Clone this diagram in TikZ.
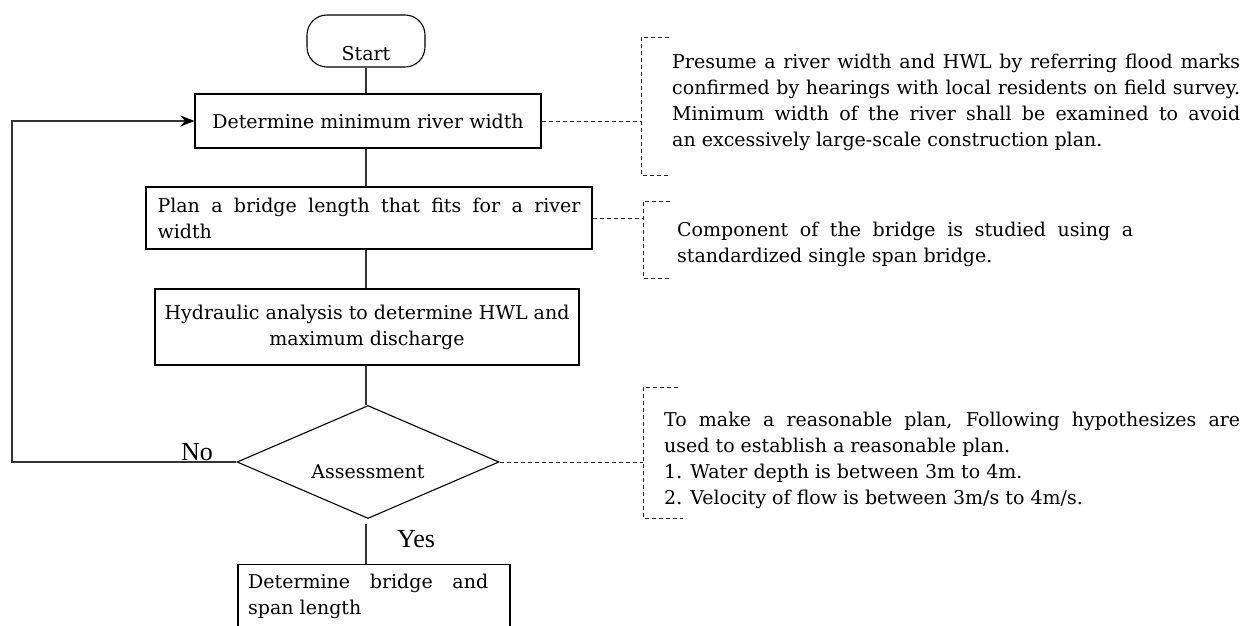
\documentclass[tikz,border=0pt]{standalone}
\usepackage{fontspec}
\setmainfont{DejaVu Serif}
\newfontfamily\yesnofont{Liberation Serif}
\usetikzlibrary{arrows.meta,calc,shapes.geometric}
\newcommand\txtsz{\fontsize{19}{26}\selectfont}
\newcommand\jline[2]{\makebox[#1][s]{\spaceskip=0pt\xspaceskip=0pt #2}}
\begin{document}
\begin{tikzpicture}[x=1pt,y=-1pt,
  box/.style={draw, line width=1.1pt, inner sep=0pt, font=\txtsz},
  conn/.style={line width=1.1pt, black!80},
  dsh/.style={line width=0.9pt, black!85, dash pattern=on 4pt off 3pt},
  note/.style={anchor=north west, inner sep=0pt, align=left, font=\txtsz},
  yn/.style={inner sep=0pt, font=\yesnofont\fontsize{26}{30}\selectfont}]
\fill[white] (0,0) rectangle (1248,626);
\useasboundingbox (0,0) rectangle (1248,626);

% flow boxes
\node[box, rounded corners=20pt, minimum width=118pt, minimum height=52pt] (st) at (366,41) {};
\node[inner sep=0pt, font=\txtsz] (stt) at (366,54) {Start};
\node[box, minimum width=346pt, minimum height=54pt] (b1) at (368,121) {Determine minimum river width};
\node[box, minimum width=446pt, minimum height=62pt, text width=423pt, align=left] (b2) at (369,218)
  {\jline{423pt}{Plan a bridge length that fits for a river}\\width};
\node[box, minimum width=424pt, minimum height=76pt, align=center] (b3) at (367,327)
  {Hydraulic analysis to determine HWL and\\maximum discharge};
\node[box, diamond, minimum width=262pt, minimum height=113pt,
      label={[yshift=-10pt, font=\txtsz]center:Assessment}] (dia) at (368,462) {};
\node[box, minimum width=272pt, minimum height=100pt, anchor=north] (b4) at (374,564) {};
\node[note] (b4t) at (248,574) {\jline{240pt}{Determine bridge and}\\span length};

% connectors
\draw[conn] (st.south) -- (b1.north -| st.south);
\draw[conn] (b1.south -| st.south) -- (b2.north -| st.south);
\draw[conn] (b2.south -| st.south) -- (b3.north -| st.south);
\draw[conn] (b3.south -| st.south) -- (dia.north -| st.south);
\draw[conn, shorten <=5pt] (dia.south -| st.south) -- (b4.north -| st.south);
\coordinate (fb) at (12,462);
\draw[conn, -{Stealth[length=14pt, width=11pt, black]}] (dia.west) -- (fb) |- (b1.west);
\node[yn] (no) at (197,452) {No};
\node[yn] (yes) at (416,539) {Yes};

% note 1
\coordinate (k1a) at (669,37); \coordinate (k1b) at (641,37);
\coordinate (k1c) at (641,175); \coordinate (k1d) at (668,175);
\draw[dsh] (k1a) -- (k1b) -- (k1c) -- (k1d);
\draw[dsh] (b1.east) -- (b1.east -| k1b);
\node[note] (n1) at (672,54) {%
\jline{568pt}{Presume a river width and HWL by referring flood marks}\\
\jline{568pt}{confirmed by hearings with local residents on field survey.}\\
\jline{568pt}{Minimum width of the river shall be examined to avoid}\\
an excessively large-scale construction plan.};

% note 2
\coordinate (k2a) at (670,201); \coordinate (k2b) at (643,201);
\coordinate (k2c) at (643,278); \coordinate (k2d) at (670,278);
\draw[dsh] (k2a) -- (k2b) -- (k2c) -- (k2d);
\draw[dsh] (b2.east) -- (b2.east -| k2b);
\node[note] (n2) at (677,222) {%
\jline{456pt}{Component of the bridge is studied using a}\\
standardized single span bridge.};

% note 3
\coordinate (k3a) at (678,387); \coordinate (k3b) at (643,387);
\coordinate (k3c) at (643,518); \coordinate (k3d) at (683,518);
\draw[dsh] (k3a) -- (k3b) -- (k3c) -- (k3d);
\draw[dsh] (dia.east) -- (dia.east -| k3b);
\node[note] (n3) at (664,412) {%
\jline{576pt}{To make a reasonable plan, Following hypothesizes are}\\
used to establish a reasonable plan.\\
1. Water depth is between 3m to 4m.\\
2. Velocity of flow is between 3m/s to 4m/s.};
\end{tikzpicture}
\end{document}
